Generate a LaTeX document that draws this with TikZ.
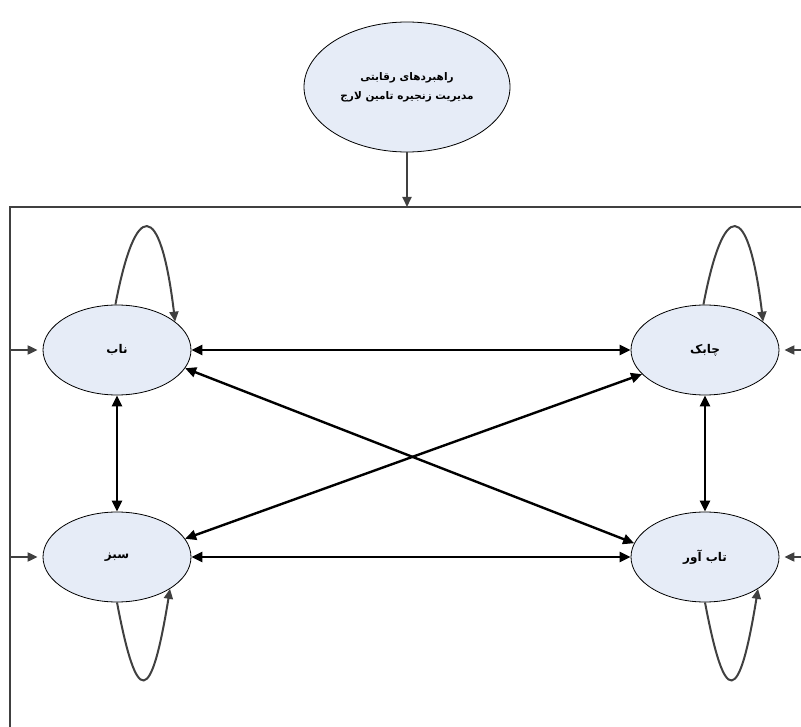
\documentclass[tikz,border=0pt]{standalone}
\usepackage{fontspec}
\newfontfamily\arabicfont[Script=Arabic]{DejaVu Sans}
\TeXXeTstate=1
\usetikzlibrary{arrows.meta, positioning, calc, shapes.geometric}
\definecolor{CFill}{HTML}{E6ECF7}
\definecolor{CGray}{HTML}{404040}

\tikzset{
  stratnode/.style={ellipse, draw=black, line width=0.8pt, fill=CFill, minimum width=148pt, minimum height=90pt, inner sep=0pt, font=\arabicfont\bfseries\fontsize{12}{15}\selectfont},
  link/.style={{Triangle[length=11pt,width=10pt]}-{Triangle[length=11pt,width=10pt]}, line width=2.4pt, black},
  feed/.style={-{Triangle[length=10pt,width=9pt]}, line width=2pt, CGray},
}

\begin{document}
\begin{tikzpicture}[x=1pt, y=-1pt]
    \useasboundingbox (0,0) rectangle (801,727);

    % --- Strategy (top) ---
    \node[stratnode, minimum width=206pt, minimum height=130pt, align=center, font=\arabicfont\bfseries\fontsize{10.5}{19}\selectfont] (top) at (407,87)
        {\beginR راهبردهای رقابتی\endR\\\beginR مدیریت زنجیره تامین لارج\endR};

    % --- Frame ---
    \coordinate (frameR) at (801,207);
    \coordinate (frameL) at (10,207);
    \coordinate (frameB) at (10,727);
    \draw[CGray, line width=2.2pt] (frameR) -- (frameL) -- (frameB);
    \draw[feed] (top.south) -- (top.south |- frameL);

    % --- Strategies ---
    \node[stratnode] (lean) at (117,350) {\beginR ناب\endR};
    \node[stratnode] (agile) at (705,350) {\beginR چابک\endR};
    \node[stratnode] (green) at (117,557) {\beginR سبز\endR};
    \node[stratnode] (resil) at (705,557) {\beginR تاب آور\endR};

    % Inputs from the frame
    \draw[feed, shorten >=5pt] (frameL |- lean) -- (lean.west);
    \draw[feed, shorten >=5pt] (frameL |- green) -- (green.west);
    \draw[feed, shorten >=5pt] (frameR |- agile) -- (agile.east);
    \draw[feed, shorten >=5pt] (frameR |- resil) -- (resil.east);

    % Links
    \draw[link] (lean.east) -- (agile.west);
    \draw[link] (green.east) -- (resil.west);
    \draw[link] (lean.south) -- (green.north);
    \draw[link] (agile.south) -- (resil.north);
    \draw[link] (lean.-15) -- (resil.169);
    \draw[link] (agile.-159) -- (green.15);

    % Self loops
    \draw[feed] (lean.92) .. controls ($(lean.92)+(20,-105)$) and ($(lean.26)+(-15,-124)$) .. (lean.26);
    \draw[feed] (agile.92) .. controls ($(agile.92)+(20,-105)$) and ($(agile.26)+(-15,-124)$) .. (agile.26);
    \draw[feed] (green.-90) .. controls ($(green.-90)+(20,106)$) and ($(green.-31)+(-19,117)$) .. (green.-31);
    \draw[feed] (resil.-90) .. controls ($(resil.-90)+(20,106)$) and ($(resil.-31)+(-19,117)$) .. (resil.-31);
\end{tikzpicture}
\end{document}
